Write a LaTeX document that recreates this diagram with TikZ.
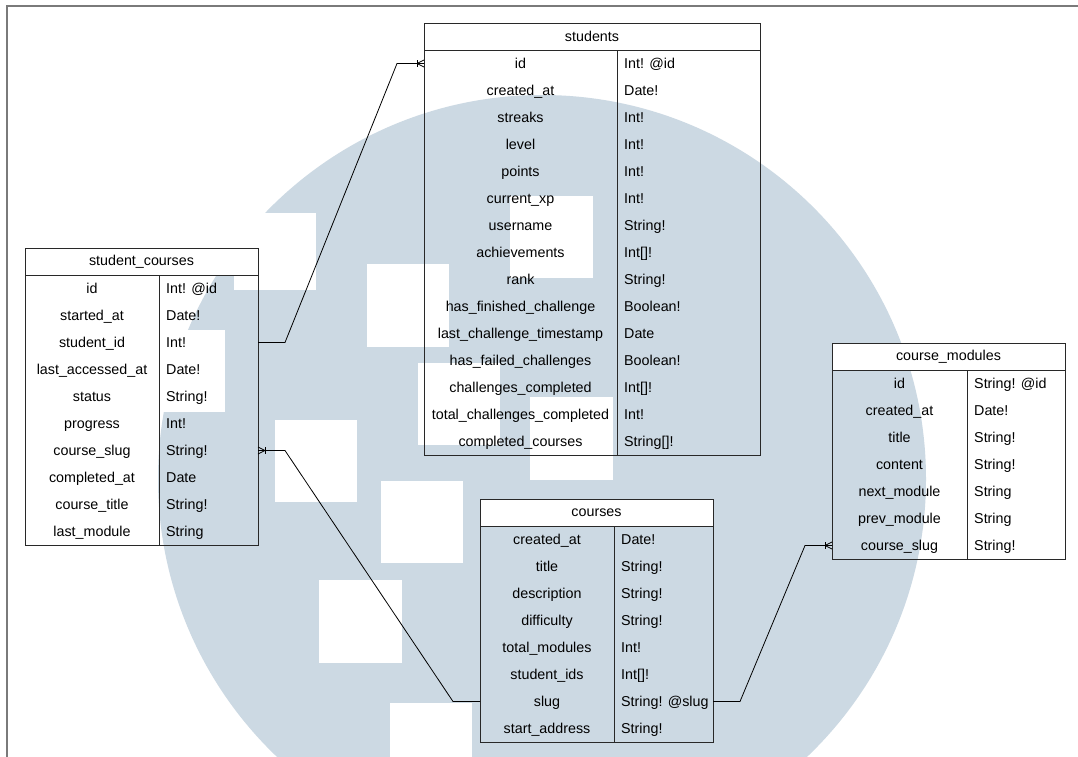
\documentclass[tikz,border=0pt]{standalone}
\usepackage{fontspec}
\setmainfont{Liberation Sans}
\usetikzlibrary{calc}

\definecolor{wmark}{RGB}{204,217,227}
\definecolor{framegray}{RGB}{122,122,122}
\definecolor{edgecol}{RGB}{40,40,40}

\tikzset{
  tblline/.style={draw=edgecol, line width=1pt},
  tblhead/.style={tblline, fill=white, minimum height=27pt, inner sep=0pt,
    outer sep=0pt, font=\fontsize{14.3}{16}\selectfont},
  fieldname/.style={anchor=base, inner sep=0pt, font=\fontsize{14.3}{16}\selectfont},
  fieldtype/.style={anchor=base west, inner sep=0pt, font=\fontsize{14.3}{16}\selectfont},
  conn/.style={draw=black, line width=0.8pt},
  crowfoot/.pic={
    \draw[conn] (-7,-3.5) -- (-7,3.5);
    \draw[conn] (0,-3.5) -- (-7,0) -- (0,3.5);
  },
  wsquare/.style={fill=white, draw=none}
}

% \ertable{id}{left x}{right x}{divider x}{top y}{title}{name/type list}
\newcommand{\ertable}[7]{%
  \node[tblhead, minimum width={#3-#2}, anchor=north west] (#1) at (#2,#5) {#6};
  \foreach [count=\i] \fname/\ftype in {#7} {
    \coordinate (#1-r\i) at (#2, {#5+27*\i+13.5});
    \node[fieldname] (#1-n\i) at ({(#2+#4)/2}, {#5+27*\i+18.7}) {\fname};
    \node[fieldtype] (#1-t\i) at ({#4+7}, {#5+27*\i+18.7}) {\ftype};
    \xdef\ernrows{\i}
  }
  \draw[tblline] (#2,{#5+27}) rectangle (#3,{#5+27+27*\ernrows});
  \draw[tblline] (#4,{#5+27}) -- (#4,{#5+27+27*\ernrows});
}

\begin{document}
\begin{tikzpicture}[x=1pt,y=-1pt]
  \useasboundingbox (0,0) rectangle (1078,756);
  \fill[white] (0,0) rectangle (1078,756);

  % watermark: disc with square cut-outs
  \begin{scope}
    \clip (0,0) rectangle (1078,756);
    \fill[wmark] (542,479) circle[radius=384];
    \fill[wsquare] (234,213) rectangle (316,290);
    \fill[wsquare] (367,264) rectangle (449,347);
    \fill[wsquare] (510,196) rectangle (593,278);
    \fill[wsquare] (418,363) rectangle (500,445);
    \fill[wsquare] (530,397) rectangle (613,480);
    \fill[wsquare] (275,420) rectangle (357,502);
    \fill[wsquare] (381,481) rectangle (463,563);
    \fill[wsquare] (319,580) rectangle (402,663);
    \fill[wsquare] (390,703) rectangle (472,790);
    \fill[wsquare] (143,330) rectangle (225,412);
  \end{scope}

  % page frame
  \draw[framegray, line width=2pt] (7,760) -- (7,6) -- (1080,6);

  \ertable{st}{424}{760}{617}{23}{students}{
    id/Int! @id,
    created\_at/Date!,
    streaks/Int!,
    level/Int!,
    points/Int!,
    current\_xp/Int!,
    username/String!,
    achievements/Int[]!,
    rank/String!,
    has\_finished\_challenge/Boolean!,
    last\_challenge\_timestamp/Date,
    has\_failed\_challenges/Boolean!,
    challenges\_completed/Int[]!,
    total\_challenges\_completed/Int!,
    completed\_courses/String[]!}

  \ertable{sc}{25}{258}{159}{248}{student\_courses}{
    id/Int! @id,
    started\_at/Date!,
    student\_id/Int!,
    last\_accessed\_at/Date!,
    status/String!,
    progress/Int!,
    course\_slug/String!,
    completed\_at/Date,
    course\_title/String!,
    last\_module/String}

  \ertable{co}{480}{713}{614}{499}{courses}{
    created\_at/Date!,
    title/String!,
    description/String!,
    difficulty/String!,
    total\_modules/Int!,
    student\_ids/Int[]!,
    slug/String! @slug,
    start\_address/String!}

  \ertable{cm}{832}{1065}{967}{343}{course\_modules}{
    id/String! @id,
    created\_at/Date!,
    title/String!,
    content/String!,
    next\_module/String,
    prev\_module/String,
    course\_slug/String!}

  % relations
  \draw[conn] (sc.east |- sc-r3) -- ++(27,0)
    -- ($(st-r1)+(-27,0)$) -- (st-r1);
  \pic at (st-r1) {crowfoot};

  \draw[conn] (co-r7) -- ++(-27,0)
    -- ($(sc.east |- sc-r7)+(27,0)$) -- (sc.east |- sc-r7);
  \pic[xscale=-1] at (sc.east |- sc-r7) {crowfoot};

  \draw[conn] (co.east |- co-r7) -- ++(27,0)
    -- ($(cm-r7)+(-27,0)$) -- (cm-r7);
  \pic at (cm-r7) {crowfoot};
\end{tikzpicture}
\end{document}
